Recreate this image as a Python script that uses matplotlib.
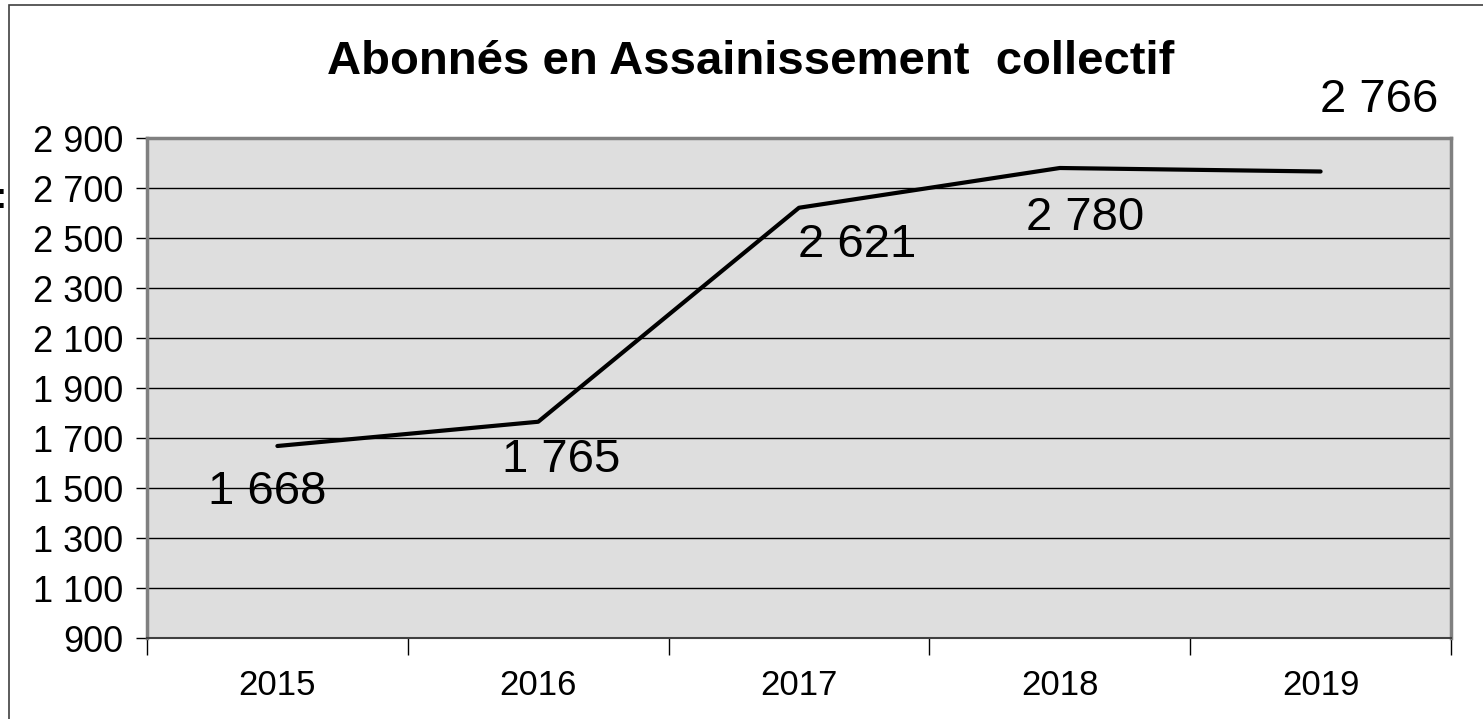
import matplotlib.pyplot as plt
from matplotlib.ticker import FuncFormatter, FixedLocator
from matplotlib.patches import Rectangle

# --- Data ---
years = ['2015', '2016', '2017', '2018', '2019']
abonnes = [1668, 1765, 2621, 2780, 2766]
# label offsets (pixels) relative to each point, as placed in the original chart
label_offsets = [(-10, -46), (23, -38), (58, -37), (25, -50), (59, 71)]

plt.rcParams['font.family'] = ['Liberation Sans', 'DejaVu Sans']

fig = plt.figure(figsize=(14.83, 7.19), dpi=100)
W, H = 1483, 719
ax = fig.add_axes([147 / W, 1 - 638 / H, (1451 - 147) / W, (638 - 138) / H])

# outer chart frame (cropped on the right and bottom)
fig.patches.append(Rectangle((9 / W, -0.1), 1.2, 1 - 5 / H + 0.1, transform=fig.transFigure,
                             fill=False, edgecolor='#404040', linewidth=1.2))
fig.text(-0.004, 1 - 198 / H, ':', fontsize=26, fontweight='bold', ha='left', va='center')

x = list(range(len(years)))
ax.set_facecolor('#dedede')
ax.plot(x, abonnes, color='black', linewidth=3, solid_capstyle='round')

for xi, v, (dx, dy) in zip(x, abonnes, label_offsets):
    ax.annotate(f'{v:,}'.replace(',', ' '), xy=(xi, v), xytext=(dx, dy),
                textcoords='offset pixels', ha='center', va='center', fontsize=34,
                annotation_clip=False)

ax.set_xlim(-0.5, len(years) - 0.5)
ax.set_ylim(900, 2900)
ax.set_yticks(range(900, 3000, 200))
ax.yaxis.set_major_formatter(FuncFormatter(lambda v, p: f'{int(v):,}'.replace(',', ' ')))
ax.grid(axis='y', color='black', linewidth=1)
ax.set_axisbelow(True)

ax.set_xticks(x)
ax.set_xticklabels(years)
ax.xaxis.set_minor_locator(FixedLocator([i - 0.5 for i in range(len(years) + 1)]))
ax.tick_params(axis='x', which='major', length=0, pad=22, labelsize=25)
ax.tick_params(axis='x', which='minor', length=12, width=1, color='black')
ax.tick_params(axis='y', length=8, width=1, pad=9, labelsize=26)

for s in ax.spines.values():
    s.set_color('#808080')
    s.set_linewidth(2.5)
ax.spines['bottom'].set_color('#404040')
ax.spines['bottom'].set_linewidth(1.5)

fig.text(751 / W, 1 - 62 / H, 'Abonnés en Assainissement  collectif', ha='center', va='center',
         fontsize=34, fontweight='bold')

fig.savefig('out.png', dpi=100)
